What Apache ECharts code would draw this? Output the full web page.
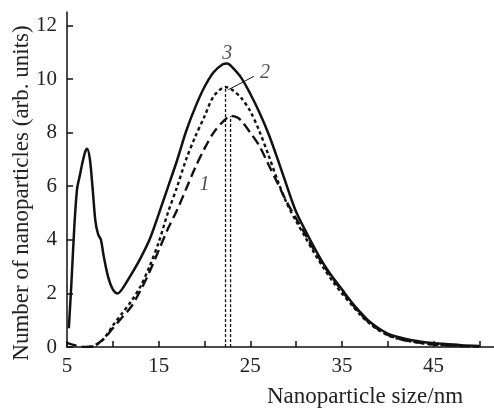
<!DOCTYPE html>
<html>
<head>
<meta charset="utf-8">
<script src="https://cdn.jsdelivr.net/npm/echarts@6/dist/echarts.min.js"></script>
<style>html,body{margin:0;padding:0;background:#fff}#c{width:494px;height:410px}</style>
</head>
<body>
<div id="c"></div>
<script>
// curve 1 (long dashes)
var curve1 = [[5,0.15],[6,0.05],[7,0.0],[8,0.05],[9,0.3],[10,0.7],[11,1.1],[12,1.5],[13,2.1],[14,2.8],[15,3.6],[16,4.4],[17,5.1],[18,5.9],[19,6.7],[20,7.4],[21,8.0],[22,8.4],[22.85,8.62],[23.5,8.58],[24,8.45],[25,8.0],[26,7.5],[27,6.8],[28,6.1],[29,5.4],[30,4.8],[31,4.2],[32,3.6],[33,3.05],[34,2.55],[35,2.1],[36,1.65],[37,1.25],[38,0.9],[39,0.65],[40,0.45],[41,0.33],[42,0.24],[44,0.13],[46,0.07],[48,0.04],[50,0.02]];
// curve 2 (short dashes)
var curve2 = [[7.5,0.0],[8,0.05],[9,0.3],[10,0.8],[11,1.25],[12,1.7],[13,2.25],[14,3.0],[15,3.9],[16,5.0],[17,5.96],[18,7.0],[19,7.85],[20,8.6],[21,9.35],[22.3,9.7],[23,9.6],[24,9.3],[25,8.8],[26,8.05],[27,7.15],[28,6.2],[29,5.35],[30,4.7],[31,4.1],[32,3.5],[33,2.95],[34,2.45],[35,2.0],[36,1.6],[37,1.2],[38,0.88],[39,0.63],[40,0.44],[41,0.32],[42,0.24],[44,0.13],[46,0.07],[48,0.04],[50,0.02]];
// curve 3 (solid)
var curve3 = [[5.2,0.7],[5.5,2.5],[5.8,4.5],[6.1,5.9],[6.4,6.4],[6.7,6.9],[7.0,7.3],[7.2,7.4],[7.5,7.0],[7.8,5.9],[8.1,4.7],[8.4,4.2],[8.7,4.0],[9.0,3.4],[9.5,2.6],[10.0,2.15],[10.5,2.0],[11,2.15],[12,2.7],[13,3.3],[14,4.0],[15,4.95],[16,5.95],[17,6.95],[18,8.05],[19,8.95],[20,9.7],[21,10.25],[22,10.55],[22.5,10.58],[23,10.45],[24,10.05],[25,9.45],[26,8.75],[27,7.95],[28,7.0],[29,6.0],[29.5,5.5],[30,5.05],[31,4.35],[32,3.7],[33,3.1],[34,2.6],[35,2.15],[36,1.7],[37,1.3],[38,0.95],[39,0.7],[40,0.5],[41,0.38],[42,0.3],[44,0.18],[46,0.12],[48,0.07],[50,0.04]];
// peak markers (vertical dotted lines)
var peak2 = [[22.3,0],[22.3,9.7]];
var peak1 = [[22.85,0],[22.85,8.62]];
// annotations
var labels = [[22.5,10.95,'3'],[26.6,10.25,'2'],[20.0,6.05,'1']];
var leader2 = [[22.6,9.6],[25.4,10.1]];
var xTicks = [5,10,15,20,25,30,35,40,45,50];
var xLabels = [5,15,25,35,45];
var yTicks = [0,2,4,6,8,10,12];
var xTitle = 'Nanoparticle size/nm';
var yTitle = 'Number of nanoparticles (arb. units)';

var font = 'Liberation Serif';
var chart = echarts.init(document.getElementById('c'));
var axisCommon = {
  axisLine: {lineStyle: {color: '#111', width: 1.5}},
  axisTick: {inside: true, length: 6, lineStyle: {color: '#111', width: 1.5}},
  splitLine: {show: false},
  axisLabel: {color: '#222', fontFamily: font, fontSize: 21}
};
function lineS(data, type, w) {
  return {type: 'line', data: data, showSymbol: false, smooth: 0.3, silent: true,
    lineStyle: {color: '#111', width: w, type: type}, z: 3};
}
chart.setOption({
  animation: false,
  grid: {left: 67, right: 0, top: 12, bottom: 63},
  xAxis: echarts.util.merge({
    type: 'value', min: 5, max: 51.6,
    axisTick: {customValues: xTicks},
    axisLabel: {customValues: xLabels, margin: 9}
  }, axisCommon),
  yAxis: echarts.util.merge({
    type: 'value', min: 0, max: 12.5,
    axisTick: {customValues: yTicks},
    axisLabel: {customValues: yTicks, margin: 10}
  }, axisCommon),
  graphic: [
    {type: 'text', left: 267, top: 385,
      style: {text: xTitle, fontFamily: font, fontSize: 23, fill: '#222'}},
    {type: 'text', x: 22, y: 193, rotation: Math.PI / 2,
      style: {text: yTitle, fontFamily: font, fontSize: 23, fill: '#222', align: 'center', verticalAlign: 'middle'}}
  ],
  series: [
    lineS(curve1, [10, 5], 2.4),
    lineS(curve2, [3.5, 3], 2.4),
    lineS(curve3, 'solid', 2.5),
    lineS(peak2, [3, 2], 1.3),
    lineS(peak1, [3, 2], 1.3),
    {type: 'line', data: leader2, showSymbol: false, silent: true, lineStyle: {color: '#111', width: 1}},
    {type: 'scatter', data: labels, symbolSize: 0, silent: true,
      label: {show: true, position: 'inside', formatter: function(p){return p.value[2];},
        fontFamily: font, fontStyle: 'italic', fontSize: 20, color: '#222'}}
  ]
});
</script>
</body>
</html>
